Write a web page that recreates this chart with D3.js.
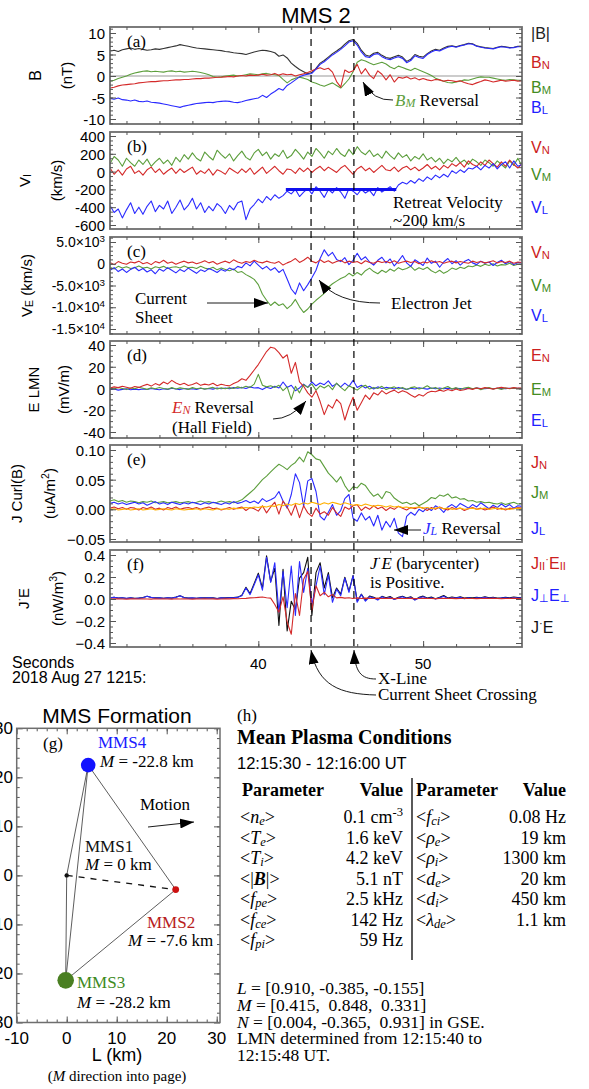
<!DOCTYPE html>
<html>
<head>
<meta charset="utf-8">
<script src="https://cdn.jsdelivr.net/npm/d3@7"></script>
<style>
  body { margin: 0; background: #fff; }
  svg { display: block; }
</style>
</head>
<body>
<script>
// ---- time grid: seconds after 2018-08-27 12:15, every 0.25 s ----
const t0 = 31, dt = 0.25;
const eventT = [43.2, 45.8];          // current sheet crossing, X-line
const retreatT = [41.67, 48.37], retreatV = -200;

// (a) B (nT)
const Bmag = [5.8,6.0,5.7,6.1, 6.3,6.5,6.2,6.4, 6.2,6.0,6.1,6.3, 6.2,6.4,6.6,6.8, 7.0,7.3,7.1,6.9, 6.7,6.5,6.4,6.3, 6.2,6.1,6.0,5.9, 5.7,5.6,5.4,5.3, 5.2,5.0,5.3,5.6, 5.8,6.0,5.9,5.7, 5.4,4.6,4.9,4.2, 3.0,2.2,1.5,1.0, 0.5,0.8,1.8,3.0, 3.6,4.4,5.2,5.8, 6.5,7.4,8.2,8.5, 7.6,6.0,4.9,4.6, 5.3,5.5,4.8,4.3, 4.1,4.5,4.8,4.4, 3.4,3.9,5.0,4.6, 4.4,5.2,5.8,6.2, 6.0,6.5,6.9,7.0, 6.8,7.1,7.3,7.6, 7.5,7.0,6.8,6.6, 6.5,6.4,6.7,6.9, 6.8,6.6,6.7,6.9, 6.9];
const BL = [-5.2,-5.4,-5.1,-5.5, -5.6,-5.8,-5.6,-5.9, -6.0,-5.8,-6.1,-6.2, -6.3,-6.5,-6.7,-6.9, -7.1,-7.3,-7.0,-6.8, -6.6,-6.4,-6.3,-6.2, -6.1,-6.2,-6.0,-5.9, -5.8,-5.9,-6.1,-6.2, -6.0,-5.7,-5.5,-5.3, -5.1,-4.5,-5.0,-4.2, -3.6,-2.9,-3.3,-2.2, -1.6,-0.9,-0.2,0.2, 0.4,0.6,1.6,2.7, 3.3,4.1,4.9,5.5, 6.2,7.0,7.9,8.2, 7.2,5.6,4.5,4.3, 5.0,5.2,4.5,4.0, 3.8,4.2,4.5,4.1, 3.1,3.6,4.7,4.3, 4.1,5.0,5.6,6.0, 5.8,6.3,6.7,6.9, 6.7,7.0,7.2,7.5, 7.4,6.9,6.7,6.5, 6.4,6.3,6.6,6.8, 6.7,6.5,6.6,6.8, 6.8];
const BM = [-1.3,-1.0,-0.6,-0.3, 0.0,0.4,0.7,0.9, 1.1,1.2,1.0,1.1, 1.0,0.9,1.1,1.2, 1.0,1.1,0.9,1.0, 1.1,1.0,0.8,0.6, 0.3,-0.1,-0.3,-0.2, 0.0,0.1,0.2,0.0, 0.1,0.3,0.5,0.4, 0.3,0.5,0.6,0.4, 0.3,0.1,-0.8,-1.6, -0.9,-0.5,-0.3,-0.5, -0.8,-1.4,-1.7,-2.1, -2.4,-2.0,-1.6,-2.2, -2.8,-1.8,-0.7,1.0, 3.2,3.8,3.5,3.0, 2.6,2.9,3.2,2.8, 2.1,1.7,2.3,2.0, 1.6,1.3,1.8,1.4, 1.0,0.6,0.1,-0.5, -0.9,-1.2,-1.5,-1.6, -1.4,-1.2,-0.9,-1.0, -0.7,-0.4,-0.2,-0.3, -0.3,-0.5,-0.7,-0.9, -1.0,-0.8,-0.9,-1.0, -1.0];
const BN = [-2.8,-2.6,-2.3,-2.1, -2.0,-1.9,-1.8,-1.6, -1.5,-1.4,-1.3,-1.3, -1.2,-1.1,-1.1,-1.0, -0.9,-0.9,-0.8,-0.8, -0.7,-0.6,-0.6,-0.5, -0.5,-0.4,-0.3,-0.3, -0.2,-0.1,-0.2,0.0, 0.1,0.0,0.2,0.1, 0.2,0.4,0.2,0.3, 0.6,0.2,0.5,0.3, 0.4,0.0,0.3,0.5, 0.8,1.2,1.6,1.9, 1.5,1.8,0.9,-1.3, -2.6,1.4,0.8,1.2, 2.7,0.5,1.7,0.2, -0.6,1.2,0.4,-0.9, 0.3,-1.4,-0.3,-0.5, -0.2,-0.7,-0.4,-0.9, -0.6,-0.9,-1.1,-0.8, -0.9,-1.2,-1.0,-1.1, -1.3,-1.1,-1.5,-1.8, -2.0,-1.6,-1.3,-0.9, -1.1,-1.4,-1.2,-1.0, -1.2,-1.1,-1.0,-1.2, -1.1];

// (b) ion velocity (km/s)
const ViM = [90,170,130,60, 150,100,60,130, 80,140,60,110, 150,90,130,70, 160,110,190,140, 210,150,120,220, 170,130,240,190, 150,200,120,180, 230,160,130,210, 250,180,220,140, 200,170,240,150, 180,250,200,140, 220,170,260,210, 150,230,190,260, 200,170,250,190, 280,220,190,240, 170,200,150,230, 180,140,210,160, 190,120,170,140, 200,130,160,110, 150,90,140,110, 160,100,130,80, 140,110,70,130, 100,60,120,80, 40,120,70,150, 60];
const ViN = [40,-30,20,-40, 30,60,-20,10, -40,20,50,-10, 30,-30,10,40, -20,30,-10,20, 50,-30,10,-20, 30,-40,20,0, -30,40,10,-20, 30,-10,40,-30, 10,50,-20,20, 60,10,-30,30, 20,-20,40,0, 40,-10,30,60, 10,50,20,-10, 40,70,20,-30, 30,60,10,40, -10,30,70,20, 10,50,0,40, 60,20,50,10, 40,80,30,60, 20,70,40,90, 60,100,50,120, 80,60,110,70, 130,90,50,110, 60,130,80,40, 90];
const ViL = [-380,-460,-420,-520, -430,-350,-470,-400, -480,-390,-330,-450, -380,-420,-330,-470, -400,-320,-430,-380, -300,-420,-350,-460, -390,-440,-360,-400, -470,-380,-430,-350, -330,-540,-420,-370, -310,-350,-280,-320, -260,-300,-270,-220, -250,-200,-280,-230, -190,-250,-170,-220, -290,-200,-240,-180, -230,-300,-190,-220, -260,-200,-240,-210, -270,-180,-230,-200, -170,-220,-150,-120, -140,-100,-130,-80, -110,-60,-90,-40, -70,-30,-60,10, -20,20,-10,40, 30,60,20,70, 40,90,30,80, 110,40,120,60, 80];

// (c) electron velocity (km/s)
const VeN = [300,-200,500,100, -100,400,200,600, 0,300,-200,500, 200,800,100,400, -100,300,600,200, 400,0,300,700, 200,500,-100,300, 600,200,900,400, 100,500,300,800, 400,200,600,300, 100,500,-300,200, 600,1200,300,800, 1500,600,200,900, 300,700,100,500, 800,200,600,300, 500,0,700,300, 100,600,300,500, 200,700,100,400, 600,300,500,0, 400,200,700,300, 500,100,400,600, 200,500,300,100, 600,300,500,200, 400,700,200,500, 300,600,100,400, 300];
const VeM = [-800,-1200,-600,-1000, -700,-1100,-900,-500, -1000,-800,-1200,-700, -900,-600,-1100,-800, -700,-1000,-500,-900, -800,-1100,-600,-1000, -1200,-800,-1400,-1000, -1300,-1600,-1200,-2000, -1800,-2500,-3000,-3600, -4800,-7000,-8400,-9600, -8800,-9600,-9200,-10300, -9500,-8200,-9900,-11200, -10400,-9300,-8400,-7600, -6800,-5400,-4600,-4000, -3400,-3000,-2200,-2800, -2000,-2600,-1600,-1000, -1800,-2300,-1500,-2000, -1200,-1700,-900,-1400, -1100,-600,-1500,-900, -1300,-800,-1600,-2100, -1500,-2200,-1700,-1000, -1300,-800,-1100,-500, -700,-300,-600,-100, -400,0,-500,-200, -300,100,-400,-100, -200];
const VeL = [-1500,-900,-1800,-1200, -2000,-1300,-800,-1600, -1100,-1900,-1400,-2300, -1200,-1700,-900,-1500, -2100,-1300,-1800,-1000, -1600,-2200,-1400,-1800, -1100,-1500,-2000,-1300, -1700,-1000,-1400,-600, -900,200,-500,600, -300,-1200,-600,-1500, -900,-2000,-1300,-3500, -5800,-7000,-4400,-6200, -4800,-3200,-1500,1200, 3200,1800,2600,1000, 500,1400,-200,800, 2400,900,1600,400, -300,800,1500,200, 1100,-500,600,1900, 200,-600,900,300, -400,1300,100,600, -800,400,1200,0, 700,-300,500,1000, 200,-200,600,100, 400,-400,300,800, 0,500,-200,300, 200];

// (d) electric field LMN (mV/m)
const EN = [0.5,1.5,0.8,2.0, 1.2,0.3,1.8,1.0, 2.5,3.8,2.2,4.5, 3.0,6.0,4.2,7.5, 5.0,3.5,4.8,2.8, 3.6,5.2,2.9,4.0, 3.2,4.8,2.6,3.9, 3.0,2.4,4.5,6.2, 9.0,7.5,12.0,17.0, 22.0,28.0,34.0,38.0, 37.0,33.0,28.0,31.0, 14.0,24.0,6.0,2.0, -4.0,-8.0,-2.0,-12.0, -24.0,-15.0,-18.0,-10.0, -14.0,-29.0,-17.0,-8.0, -20.0,-13.0,-6.0,-10.0, -4.0,-6.0,-2.0,-5.0, -3.0,-1.5,-4.0,-2.0, -3.5,-6.0,-8.0,-5.5, -7.0,-4.0,-2.5,-3.0, -1.5,-2.5,-1.0,-2.0, -0.5,-1.8,-1.2,0.0, -0.8,0.5,-0.3,0.8, 0.2,-0.6,0.4,1.0, 0.5,0.0,0.8,0.3, 0.5];
const EM = [0.5,-0.5,1.0,0.0, -1.0,0.5,-0.3,1.2, 0.2,-0.8,0.6,-0.2, 1.0,0.0,-0.6,0.8, -0.4,0.6,0.0,-0.8, 0.8,-0.2,0.5,-0.6, 0.3,1.0,-0.4,0.6, -0.2,0.8,0.0,1.5, 0.5,2.0,1.0,4.0, 13.0,3.0,1.5,2.5, 1.0,3.0,-2.0,1.5, -10.0,2.0,-4.0,3.5, 1.0,4.0,-1.5,2.5, 0.5,3.0,-1.0,5.0, 1.0,-2.0,2.5,0.5, -1.5,1.5,3.0,-0.5, 1.0,0.0,2.0,-1.0, 0.5,1.5,-0.5,1.0, -1.0,0.8,1.5,-0.5, 0.5,2.5,0.0,1.0, -1.0,0.5,1.8,-0.5, 0.8,-1.0,0.5,1.2, -0.3,0.6,-1.2,0.2, 0.8,-0.5,0.3,-0.8, 0.4,-0.2,0.6,0.0, 0.2];
const EL = [-1.0,-0.5,-1.5,-0.8, -0.3,-1.2,-0.6,-1.0, -0.4,-0.9,0.0,-0.7, -1.1,-0.3,-0.8,0.2, -0.5,-1.0,0.0,-0.6, -0.2,-0.8,0.3,-0.4, 0.0,-0.6,0.5,-0.2, 0.4,-0.3,0.8,0.2, 1.0,0.0,1.5,0.5, 0.8,-1.0,1.2,0.0, 2.0,0.5,6.0,1.0, 3.0,-2.0,0.5,4.0, 1.0,6.0,2.5,5.0, 3.5,7.0,2.0,4.5, 1.5,5.0,2.0,7.5, 1.0,3.0,0.5,2.0, -0.5,1.5,0.0,1.0, 0.5,-0.5,1.0,0.0, -0.8,0.3,-0.5,0.6, 0.0,-0.6,0.4,-0.2, 0.5,-0.3,0.2,-0.5, 0.3,0.0,-0.4,0.2, -0.2,0.4,0.0,-0.3, 0.2,-0.2,0.3,0.0, -0.1,0.2,0.0,0.1, 0.0];

// (e) current density from curlometer (uA/m^2)
const JM = [0.014,0.016,0.013,0.015, 0.012,0.014,0.013,0.011, 0.013,0.012,0.014,0.011, 0.012,0.013,0.011,0.012, 0.013,0.011,0.012,0.013, 0.011,0.012,0.014,0.012, 0.013,0.011,0.012,0.014, 0.012,0.013,0.011,0.013, 0.016,0.022,0.028,0.034, 0.042,0.050,0.056,0.063, 0.070,0.076,0.072,0.067, 0.074,0.079,0.088,0.080, 0.097,0.092,0.085,0.083, 0.072,0.061,0.054,0.046, 0.055,0.040,0.030,0.038, 0.036,0.044,0.040,0.030, 0.022,0.026,0.018,0.030, 0.028,0.019,0.014,0.010, 0.012,0.008,0.011,0.006, 0.010,0.014,0.020,0.018, 0.024,0.022,0.026,0.019, 0.021,0.017,0.018,0.014, 0.015,0.012,0.013,0.011, 0.012,0.010,0.009,0.011, 0.008,0.010,0.012,0.009, 0.010];
const JL = [0.010,0.012,0.009,0.011, 0.008,0.010,0.012,0.009, 0.011,0.007,0.010,0.013, 0.009,0.011,0.008,0.012, 0.010,0.008,0.011,0.009, 0.012,0.010,0.008,0.011, 0.009,0.012,0.010,0.008, 0.011,0.009,0.013,0.010, 0.012,0.015,0.011,0.014, 0.010,0.018,0.013,0.016, 0.020,0.030,0.014,0.002, 0.025,0.060,0.045,0.005, 0.048,0.052,0.030,-0.012, -0.018,-0.005,0.008,-0.010, -0.002,0.018,0.025,-0.015, -0.020,-0.006,-0.018,-0.012, -0.028,-0.010,-0.035,-0.020, -0.030,-0.015,-0.040,-0.046, -0.012,-0.005,-0.010,0.000, -0.004,0.003,-0.002,0.006, 0.002,-0.005,0.004,0.008, 0.003,0.010,0.006,0.002, 0.008,0.004,0.011,0.006, 0.001,0.007,0.003,0.009, 0.004,0.008,0.002,0.006, 0.005];
const JN = [0.002,0.004,0.001,0.003, 0.000,0.003,0.002,-0.001, 0.003,0.001,0.004,0.000, 0.002,-0.001,0.003,0.001, 0.004,0.000,0.002,0.003, 0.001,0.003,0.000,0.002, 0.004,0.001,0.002,-0.001, 0.001,0.003,0.000,0.002, 0.004,-0.002,0.003,0.001, -0.003,0.006,-0.006,0.004, 0.012,-0.008,0.014,0.004, -0.010,0.008,-0.014,0.006, -0.006,-0.012,0.002,-0.008, -0.004,-0.010,0.003,-0.006, -0.012,0.004,0.000,0.006, 0.008,-0.002,0.004,0.000, 0.006,0.001,0.004,-0.002, 0.003,0.000,0.005,0.002, -0.001,0.003,0.001,0.004, 0.002,-0.002,0.003,0.000, 0.004,0.001,-0.001,0.003, 0.000,0.002,-0.002,0.001, 0.003,0.000,0.002,-0.001, 0.001,0.004,0.000,0.002, -0.001,0.002,0.001,0.003, 0.002];
const Jo = [0.000,0.001,-0.001,0.000, 0.001,-0.001,0.000,0.001, -0.001,0.000,0.001,-0.001, 0.000,0.001,0.000,-0.001, 0.001,0.000,-0.001,0.000, 0.000,0.001,-0.001,0.001, 0.000,-0.001,0.001,0.000, 0.001,0.000,0.002,0.001, 0.002,0.003,0.002,0.004, 0.003,0.005,0.004,0.006, 0.005,0.008,0.006,0.009, 0.007,0.010,0.008,0.011, 0.009,0.012,0.010,0.008, 0.011,0.009,0.012,0.010, 0.008,0.011,0.009,0.007, 0.008,0.006,0.009,0.007, 0.005,0.007,0.006,0.004, 0.006,0.004,0.005,0.003, 0.004,0.002,0.003,0.004, 0.002,0.003,0.001,0.002, 0.003,0.001,0.002,0.000, 0.001,0.002,0.000,0.001, 0.002,0.000,0.001,0.002, 0.000,0.001,0.002,0.000, 0.001,0.000,0.001,0.002, 0.001];

// (f) J.E (nW/m^3)
const JEperp = [0.010,0.015,0.008,0.012, 0.006,0.010,0.004,0.008, 0.012,0.025,0.015,0.008, 0.010,0.006,0.012,0.009, 0.015,0.030,0.012,0.008, 0.010,0.006,0.011,0.008, 0.012,0.009,0.005,0.010, 0.008,0.012,0.010,0.015, 0.030,0.100,0.040,0.130, 0.220,0.080,0.380,0.150, 0.330,-0.120,0.250,-0.080, 0.300,-0.150,0.340,0.060, 0.280,-0.050,0.120,0.300, 0.040,0.220,-0.030,0.090, 0.030,0.190,0.060,0.210, -0.030,0.040,-0.020,0.020, 0.010,-0.010,0.020,0.005, 0.015,-0.005,0.010,0.020, 0.005,0.015,-0.010,0.010, 0.020,0.005,0.012,0.000, 0.010,0.025,0.005,0.012, 0.008,0.015,0.002,0.010, 0.005,0.012,0.008,0.015, 0.006,0.010,0.004,0.008, 0.010,0.006,0.012,0.008, 0.010];
const JEpar = [0.000,0.002,0.001,0.000, -0.001,0.001,0.002,0.000, 0.001,0.000,-0.001,0.002, 0.000,0.001,0.000,-0.001, 0.002,0.000,0.001,0.000, -0.001,0.001,0.000,0.002, 0.000,0.001,-0.001,0.000, 0.002,0.001,0.003,0.002, 0.004,0.006,0.010,0.012, 0.015,0.018,0.012,0.008, -0.050,-0.120,0.020,-0.210, -0.320,0.050,-0.150,0.180, 0.250,-0.100,0.120,0.030, 0.060,0.020,0.040,0.010, 0.015,0.008,0.012,0.005, 0.010,0.004,0.008,0.006, 0.005,0.008,0.004,0.006, 0.007,0.003,0.006,0.005, 0.004,0.006,0.003,0.005, 0.006,0.004,0.005,0.003, 0.005,0.007,0.004,0.006, 0.003,0.005,0.006,0.004, 0.005,0.003,0.004,0.006, 0.004,0.006,0.005,0.003, 0.005,0.004,0.006,0.005, 0.004];
const JEtot = [0.010,0.016,0.009,0.012, 0.005,0.011,0.006,0.008, 0.013,0.025,0.014,0.010, 0.010,0.007,0.012,0.008, 0.017,0.030,0.013,0.008, 0.009,0.007,0.011,0.010, 0.012,0.010,0.004,0.010, 0.010,0.013,0.013,0.017, 0.034,0.106,0.050,0.142, 0.235,0.098,0.392,0.158, 0.280,-0.240,0.270,-0.290, -0.020,-0.100,0.190,0.240, 0.380,-0.150,0.240,0.330, 0.100,0.240,0.010,0.100, 0.045,0.198,0.072,0.215, -0.020,0.044,-0.012,0.026, 0.015,-0.002,0.024,0.011, 0.022,-0.002,0.016,0.025, 0.009,0.021,-0.007,0.015, 0.026,0.009,0.017,0.003, 0.015,0.032,0.009,0.018, 0.011,0.020,0.008,0.014, 0.010,0.015,0.012,0.021, 0.010,0.016,0.009,0.011, 0.015,0.010,0.018,0.013, 0.014];

// tick values
const ticksA = [-10, -5, 0, 5, 10];
const ticksB = [-600, -400, -200, 0, 200, 400];
const ticksC = [-15000, -10000, -5000, 0, 5000];
const ticksCLabel = [["-1.5×10", "4"], ["-1.0×10", "4"], ["-5.0×10", "3"], ["0", ""], ["5.0×10", "3"]];
const ticksD = [-40, -20, 0, 20, 40];
const ticksE = [-0.05, 0.00, 0.05, 0.10];
const ticksF = [-0.4, -0.2, 0.0, 0.2, 0.4];
const timeTicks = [40, 50];

// (g) formation, L and N in km
const scNames = ["MMS1", "MMS2", "MMS3", "MMS4"];
const scL = [0, 21.8, -0.2, 4.3];
const scN = [0, -2.9, -21.4, 22.5];
const scMlabel = ["0", "-7.6", "-28.2", "-22.8"];
const formTicks = [-30, -20, -10, 0, 10, 20, 30];

// (h) table
const NB = "\u00a0";
const params1 = [[["<"],["n","i"],["e","i sub"],[">"]], [["<"],["T","i"],["e","i sub"],[">"]], [["<"],["T","i"],["i","i sub"],[">"]], [["<|"],["B","i b"],["|>"]], [["<"],["f","i"],["pe","i sub"],[">"]], [["<"],["f","i"],["ce","i sub"],[">"]], [["<"],["f","i"],["pi","i sub"],[">"]]];
const values1 = [[["0.1 cm"],["-3","sup"]], [["1.6 keV"]], [["4.2 keV"]], [["5.1 nT"]], [["2.5 kHz"]], [["142 Hz"]], [["59 Hz"]]];
const params2 = [[["<"],["f","i"],["ci","i sub"],[">"]], [["<"],["ρ","i"],["e","i sub"],[">"]], [["<"],["ρ","i"],["i","i sub"],[">"]], [["<"],["d","i"],["e","i sub"],[">"]], [["<"],["d","i"],["i","i sub"],[">"]], [["<"],["λ","i"],["de","i sub"],[">"]]];
const values2 = ["0.08 Hz", "19 km", "1300 km", "20 km", "450 km", "1.1 km"];
const lmnLines = [[["L","i"],[" = [0.910, -0.385, -0.155]"]], [["M","i"],[" = [0.415, " + NB + "0.848, " + NB + "0.331]"]], [["N","i"],[" = [0.004, -0.365, " + NB + "0.931] in GSE."]], [["LMN determined from 12:15:40 to"]], [["12:15:48 UT."]]];

// ---- drawing ----
const W = 589, H = 1089;
const sans = "'Liberation Sans', Arial, Helvetica, sans-serif";
const serif = "'Liberation Serif', 'Times New Roman', serif";
const RED = "#d42a2a", GRN = "#5c9e3c", BLU = "#2a2aff", BLK = "#333333", ORG = "#ffb000";
const LRED = "#cc2020", LGRN = "#438c22", LBLU = "#2020ff";

const svg = d3.select("body").append("svg").attr("width", W).attr("height", H);

const defs = svg.append("defs");
defs.append("marker").attr("id", "head")
  .attr("viewBox", "0 0 14 10").attr("refX", 14).attr("refY", 5)
  .attr("markerWidth", 14).attr("markerHeight", 10)
  .attr("markerUnits", "userSpaceOnUse").attr("orient", "auto")
  .append("path").attr("d", "M0,0 L14,5 L0,10 Z").attr("fill", "#000");

function rich(sel, parts, size) {
  parts.forEach(p => {
    const s = sel.append("tspan").text(p[0]);
    const f = (p[1] || "").split(" ");
    if (f.includes("i")) s.attr("font-style", "italic");
    if (f.includes("b")) s.attr("font-weight", "bold");
    if (f.includes("sub")) s.attr("baseline-shift", "-28%").attr("font-size", size * 0.7);
    if (f.includes("sup")) s.attr("baseline-shift", "40%").attr("font-size", size * 0.7);
    if (p[2]) s.attr("fill", p[2]);
  });
}
function txt(x, y, parts, o) {
  o = o || {};
  const size = o.size || 15;
  const t = svg.append("text").attr("x", x).attr("y", y)
    .attr("font-size", size).attr("font-family", o.font || sans)
    .attr("fill", o.fill || "#000").attr("text-anchor", o.anchor || "start")
    .attr("dominant-baseline", "central");
  if (o.weight) t.attr("font-weight", o.weight);
  if (o.rotate) t.attr("transform", `rotate(-90,${x},${y})`).attr("text-anchor", "middle");
  if (typeof parts === "string") t.text(parts); else rich(t, parts, size);
  return t;
}

const time = Bmag.map((d, i) => t0 + i * dt);
const x = d3.scaleLinear().domain([31, 56]).range([110, 522]);
const PH = 97;

const panels = [
  { top: 27, yd: [-10, 10], yr: [119, 33], ticks: ticksA, minor: 1, tag: "(a)", zero: true,
    titles: [{ x: 35, p: [["B"]], s: 16 }, { x: 66, p: [["(nT)"]] }],
    series: [[Bmag, BLK], [BM, GRN], [BN, RED], [BL, BLU]],
    labels: [{ y: 33, c: "#222", p: [["|B|"]] }, { y: 62, c: LRED, p: [["B"], ["N", "sub"]] }, { y: 87, c: LGRN, p: [["B"], ["M", "sub"]] }, { y: 107, c: LBLU, p: [["B"], ["L", "sub"]] }] },
  { top: 132, yd: [-600, 400], yr: [225, 136], ticks: ticksB, minor: 50, tag: "(b)",
    titles: [{ x: 24, p: [["V"], ["I", "sub"]] }, { x: 56, p: [["(km/s)"]] }],
    series: [[ViM, GRN], [ViN, RED], [ViL, BLU]],
    labels: [{ y: 147, c: LRED, p: [["V"], ["N", "sub"]] }, { y: 174, c: LGRN, p: [["V"], ["M", "sub"]] }, { y: 207, c: LBLU, p: [["V"], ["L", "sub"]] }] },
  { top: 237, yd: [-15000, 5000], yr: [329, 242], ticks: ticksC, minor: 1000, tag: "(c)", tickLab: ticksCLabel,
    titles: [{ x: 26, p: [["V"], ["E", "sub"], [" (km/s)"]] }],
    series: [[VeM, GRN], [VeL, BLU], [VeN, RED]],
    labels: [{ y: 252, c: LRED, p: [["V"], ["N", "sub"]] }, { y: 285, c: LGRN, p: [["V"], ["M", "sub"]] }, { y: 315, c: LBLU, p: [["V"], ["L", "sub"]] }] },
  { top: 341, yd: [-40, 40], yr: [432, 345], ticks: ticksD, minor: 5, tag: "(d)",
    titles: [{ x: 33, p: [["E LMN"]] }, { x: 63, p: [["(mV/m)"]] }],
    series: [[EL, BLU], [EM, GRN], [EN, RED]],
    labels: [{ y: 355, c: LRED, p: [["E"], ["N", "sub"]] }, { y: 389, c: LGRN, p: [["E"], ["M", "sub"]] }, { y: 420, c: LBLU, p: [["E"], ["L", "sub"]] }] },
  { top: 445, yd: [-0.05, 0.10], yr: [539, 450], ticks: ticksE, minor: 0.01, tag: "(e)", fmt: d3.format(".2f"),
    titles: [{ x: 16, p: [["J Curl(B)"]] }, { x: 49, p: [["(uA/m"], ["2", "sup"], [")"]] }],
    series: [[JM, GRN], [JL, BLU], [JN, RED], [Jo, ORG]],
    labels: [{ y: 462, c: LRED, p: [["J"], ["N", "sub"]] }, { y: 492, c: LGRN, p: [["J"], ["M", "sub"]] }, { y: 528, c: LBLU, p: [["J"], ["L", "sub"]] }] },
  { top: 550, yd: [-0.4, 0.4], yr: [643, 555], ticks: ticksF, minor: 0.05, tag: "(f)", fmt: d3.format(".1f"),
    titles: [{ x: 23, p: [["J"], ["·", "sup"], ["E"]] }, { x: 57, p: [["(nW/m"], ["3", "sup"], [")"]] }],
    series: [[JEtot, "#111"], [JEperp, BLU], [JEpar, RED]],
    labels: [{ y: 563, c: LRED, p: [["J"], ["II", "sub"], ["·", "sup"], ["E"], ["II", "sub"]] }, { y: 595, c: LBLU, p: [["J"], ["⊥", "sub"], ["E"], ["⊥", "sub"]] }, { y: 627, c: "#111", p: [["J"], ["·", "sup"], ["E"]] }] }
];

panels.forEach((P, k) => {
  const y = d3.scaleLinear().domain(P.yd).range(P.yr);
  const top = P.top, bot = P.top + PH;
  const g = svg.append("g");
  const cid = "clip" + k;
  defs.append("clipPath").attr("id", cid).append("rect")
    .attr("x", x.range()[0]).attr("y", top).attr("width", x.range()[1] - x.range()[0]).attr("height", PH);

  if (P.zero) {
    g.append("line").attr("x1", x.range()[0]).attr("x2", x.range()[1])
      .attr("y1", y(0)).attr("y2", y(0)).attr("stroke", "#999").attr("stroke-width", 1.2);
  }
  const lines = g.append("g").attr("clip-path", `url(#${cid})`);
  P.series.forEach(([vals, col]) => {
    lines.append("path").datum(vals)
      .attr("d", d3.line().x((d, i) => x(time[i])).y(d => y(d)))
      .attr("fill", "none").attr("stroke", col).attr("stroke-width", 1.1).attr("stroke-linejoin", "round");
  });
  if (k === 1) {
    g.append("line").attr("x1", x(retreatT[0])).attr("x2", x(retreatT[1]))
      .attr("y1", y(retreatV)).attr("y2", y(retreatV)).attr("stroke", "#1010ee").attr("stroke-width", 3);
  }

  // ticks
  const lo = y.invert(bot), hi = y.invert(top);
  const minorV = d3.range(Math.ceil(lo / P.minor) * P.minor, hi, P.minor);
  const tk = (axis, tx, vals, len) => svg.append("g").attr("transform", tx)
    .call(axis.tickValues(vals).tickSize(-len).tickFormat(""))
    .call(s => s.select(".domain").remove())
    .call(s => s.selectAll("line").attr("stroke", "#555"));
  tk(d3.axisLeft(y), `translate(${x.range()[0]},0)`, minorV, 3);
  tk(d3.axisRight(y), `translate(${x.range()[1]},0)`, minorV, 3);
  tk(d3.axisLeft(y), `translate(${x.range()[0]},0)`, P.ticks, 6);
  tk(d3.axisRight(y), `translate(${x.range()[1]},0)`, P.ticks, 6);
  const minT = d3.range(32, 56, 2);
  tk(d3.axisTop(x), `translate(0,${top})`, minT, 3);
  tk(d3.axisBottom(x), `translate(0,${bot})`, minT, 3);
  tk(d3.axisTop(x), `translate(0,${top})`, timeTicks, 6);
  tk(d3.axisBottom(x), `translate(0,${bot})`, timeTicks, 6);

  g.append("rect").attr("x", x.range()[0]).attr("y", top)
    .attr("width", x.range()[1] - x.range()[0]).attr("height", PH)
    .attr("fill", "none").attr("stroke", "#6e6e6e").attr("stroke-width", 1.8);

  // tick labels
  P.ticks.forEach((v, j) => {
    let parts;
    if (P.tickLab) parts = P.tickLab[j][1] ? [[P.tickLab[j][0]], [P.tickLab[j][1], "sup"]] : [[P.tickLab[j][0]]];
    else parts = [[P.fmt ? P.fmt(v) : String(v)]];
    txt(105, y(v), parts, { size: P.tickLab ? 14 : 15, anchor: "end" });
  });

  P.titles.forEach(tt => txt(tt.x, top + PH / 2, tt.p, { size: tt.s || 15, rotate: true }));
  P.labels.forEach(L => txt(531, L.y, L.p, { size: 16, fill: L.c }));
  txt(127, top + 14.5, P.tag, { size: 17, font: serif });
});

// event dashed lines across all panels
eventT.forEach(t => {
  svg.append("line").attr("x1", x(t)).attr("x2", x(t))
    .attr("y1", panels[0].top).attr("y2", panels[5].top + PH)
    .attr("stroke", "#000").attr("stroke-width", 1.2).attr("stroke-dasharray", "7,5");
});

// bottom time axis labels
timeTicks.forEach(t => txt(x(t), 663, String(t), { size: 15, anchor: "middle" }));
txt(12, 662, "Seconds", { size: 16 });
txt(12, 677, "2018 Aug 27 1215:", { size: 16 });

// title
txt(316, 15, "MMS 2", { size: 22, anchor: "middle" });

// annotations
const arrow = (d) => svg.append("path").attr("d", d).attr("fill", "none")
  .attr("stroke", "#000").attr("stroke-width", 0.9).attr("marker-end", "url(#head)");
txt(395, 100, [["B", "i", GRN], ["M", "i sub", GRN], [" Reversal"]], { size: 17, font: serif });
arrow("M393,100 Q373,101 363,82");
txt(393, 202, "Retreat Velocity", { size: 17, font: serif });
txt(393, 220, "~200 km/s", { size: 17, font: serif });
txt(135, 298, "Current", { size: 17, font: serif });
txt(135, 317, "Sheet", { size: 17, font: serif });
arrow("M207,303 L268,303");
txt(391, 303, "Electron Jet", { size: 17, font: serif });
arrow("M380,303 Q336,303 319,280");
txt(172, 407, [["E", "i", RED], ["N", "i sub", RED], [" Reversal"]], { size: 17, font: serif });
txt(172, 427, "(Hall Field)", { size: 17, font: serif });
arrow("M273,419 Q291,419 306,401");
txt(423, 528, [["J", "i", BLU], ["L", "i sub", BLU], [" Reversal"]], { size: 17, font: serif });
arrow("M421,530 L394,530");
txt(370, 563, [["J", "i"], ["·", "sup"], ["E", "i"], [" (barycenter)"]], { size: 17, font: serif });
txt(370, 582, "is Positive.", { size: 17, font: serif });
txt(378, 678, "X-Line", { size: 17, font: serif });
txt(378, 694, "Current Sheet Crossing", { size: 17, font: serif });
arrow("M376,679 C361,679 355,672 354,650");
arrow("M376,695 C340,694 318,686 311,650");

// ---- (g) MMS formation ----
const fx = d3.scaleLinear().domain([-10, 30.66]).range([16.7, 220]);
const fy = d3.scaleLinear().domain([-30, 30]).range([1022.5, 728.3]);
const fg = svg.append("g");
const ftk = (axis, tx, vals, len) => fg.append("g").attr("transform", tx)
  .call(axis.tickValues(vals).tickSize(-len).tickFormat(""))
  .call(s => s.select(".domain").remove())
  .call(s => s.selectAll("line").attr("stroke", "#555"));
const fMinorX = d3.range(-8, 31, 2), fMinorY = d3.range(-28, 30, 2);
const fMajorX = [-10, 0, 10, 20, 30];
ftk(d3.axisBottom(fx), `translate(0,${fy.range()[0]})`, fMinorX, 3);
ftk(d3.axisTop(fx), `translate(0,${fy.range()[1]})`, fMinorX, 3);
ftk(d3.axisBottom(fx), `translate(0,${fy.range()[0]})`, fMajorX, 6);
ftk(d3.axisTop(fx), `translate(0,${fy.range()[1]})`, fMajorX, 6);
ftk(d3.axisLeft(fy), `translate(${fx.range()[0]},0)`, fMinorY, 3);
ftk(d3.axisRight(fy), `translate(${fx.range()[1]},0)`, fMinorY, 3);
ftk(d3.axisLeft(fy), `translate(${fx.range()[0]},0)`, formTicks, 6);
ftk(d3.axisRight(fy), `translate(${fx.range()[1]},0)`, formTicks, 6);
fg.append("rect").attr("x", fx.range()[0]).attr("y", fy.range()[1])
  .attr("width", fx.range()[1] - fx.range()[0]).attr("height", fy.range()[0] - fy.range()[1])
  .attr("fill", "none").attr("stroke", "#6e6e6e").attr("stroke-width", 1.5);
formTicks.forEach(v => txt(13, fy(v), String(v), { size: 17, anchor: "end" }));
fMajorX.forEach(v => txt(fx(v), 1038, String(v), { size: 17, anchor: "middle" }));

const edges = [[0, 3], [0, 2], [2, 3], [3, 1], [1, 2]];
edges.forEach(([a, b]) => fg.append("line")
  .attr("x1", fx(scL[a])).attr("y1", fy(scN[a])).attr("x2", fx(scL[b])).attr("y2", fy(scN[b]))
  .attr("stroke", "#333").attr("stroke-width", 0.8));
fg.append("line").attr("x1", fx(scL[0])).attr("y1", fy(scN[0])).attr("x2", fx(scL[1])).attr("y2", fy(scN[1]))
  .attr("stroke", "#111").attr("stroke-width", 1.3).attr("stroke-dasharray", "6,6");
const scCol = ["#111", "#cc1010", "#4a7f22", "#1212ff"];
const scR = [2.2, 3.4, 8.3, 7.3];
scL.forEach((l, i) => fg.append("circle").attr("cx", fx(l)).attr("cy", fy(scN[i])).attr("r", scR[i]).attr("fill", scCol[i]));

txt(117, 715, "MMS Formation", { size: 21, anchor: "middle" });
txt(43, 743, "(g)", { size: 17, font: serif });
const labCol = ["#111", "#b81c1c", "#3e8a1e", "#1a1aff"];
const labPos = [[85, 846], [147, 922], [77, 982], [98, 742]];
scNames.forEach((n, i) => {
  txt(labPos[i][0], labPos[i][1], n, { size: 17, font: serif, fill: labCol[i] });
});
const mPos = [[85, 864], [128, 940], [77, 1002], [100, 761]];
scMlabel.forEach((m, i) => txt(mPos[i][0], mPos[i][1], [["M", "i"], [" = " + m + " km"]], { size: 17, font: serif }));
txt(140, 804, "Motion", { size: 17, font: serif });
arrow("M148,827 L194,822");
txt(117, 1055, "L (km)", { size: 18, anchor: "middle" });
txt(117, 1076, [["("], ["M", "i"], [" direction into page)"]], { size: 15, font: serif, anchor: "middle" });

// ---- (h) table ----
txt(237, 715, "(h)", { size: 17, font: serif });
txt(237, 737, "Mean Plasma Conditions", { size: 20, font: serif, weight: "bold" });
txt(237, 763, "12:15:30 - 12:16:00 UT", { size: 16.5 });
txt(242, 790, "Parameter", { size: 18, font: serif, weight: "bold" });
txt(403, 790, "Value", { size: 18, font: serif, weight: "bold", anchor: "end" });
txt(416, 790, "Parameter", { size: 18, font: serif, weight: "bold" });
txt(566, 790, "Value", { size: 18, font: serif, weight: "bold", anchor: "end" });
svg.append("line").attr("x1", 412).attr("x2", 412).attr("y1", 778).attr("y2", 960)
  .attr("stroke", "#000").attr("stroke-width", 1.3);
const rowY = d3.scaleLinear().domain([0, 6]).range([817, 940]);
params1.forEach((p, i) => {
  txt(240, rowY(i), p, { size: 18, font: serif });
  txt(403, rowY(i), values1[i], { size: 18, font: serif, anchor: "end" });
});
params2.forEach((p, i) => {
  txt(416, rowY(i), p, { size: 18, font: serif });
  txt(566, rowY(i), values2[i], { size: 18, font: serif, anchor: "end" });
});
const lineY = d3.scaleLinear().domain([0, 4]).range([988, 1055]);
lmnLines.forEach((l, i) => txt(237, lineY(i), l, { size: 17.5, font: serif }));
</script>
</body>
</html>
